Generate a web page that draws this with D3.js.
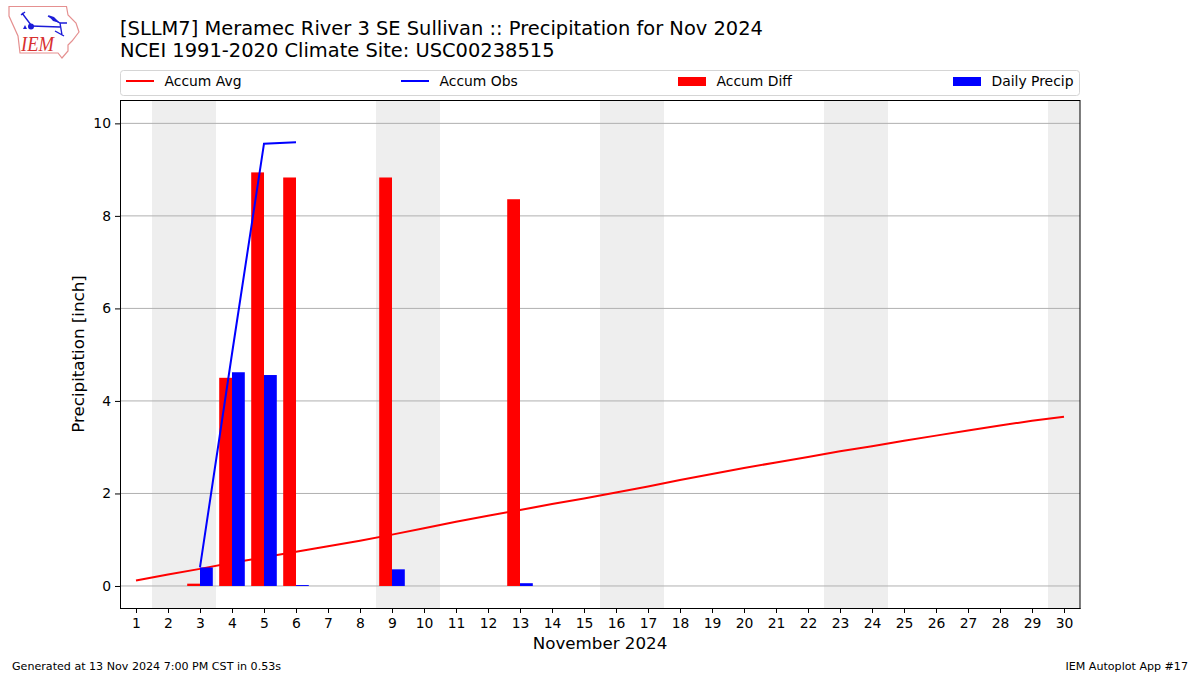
<!DOCTYPE html>
<html>
<head>
<meta charset="utf-8">
<title>Precipitation for Nov 2024</title>
<style>
    html, body { margin: 0; padding: 0; background: white; }
    svg { display: block; font-family: "DejaVu Sans"; }
    .tick text { font-size: 13.9px; fill: black; font-family: "DejaVu Sans"; }
    .domain, .tick line { stroke: black; stroke-width: 1px; }
    .gridline { stroke: #b0b0b0; stroke-width: 1px; }
</style>
</head>
<body>
<script src="https://cdn.jsdelivr.net/npm/d3@7"></script>
<script>
    const days = d3.range(1, 31);
    const accumAvg = [0.12, 0.25, 0.37, 0.50, 0.62, 0.74, 0.86, 0.98, 1.11, 1.25,
        1.39, 1.52, 1.64, 1.77, 1.89, 2.02, 2.15, 2.29, 2.42, 2.55,
        2.67, 2.79, 2.91, 3.02, 3.14, 3.25, 3.36, 3.47, 3.57, 3.66];
    const obsDays = [3, 4, 5, 6];
    const accumObs = [0.40, 5.02, 9.56, 9.59];
    const diffDays = [3, 4, 5, 6, 9, 13];
    const accumDiff = [0.05, 4.50, 8.94, 8.83, 8.83, 8.36];
    const dailyPrecip = [0.40, 4.62, 4.56, 0.02, 0.36, 0.06];
    const weekendBands = [[1.5, 3.5], [8.5, 10.5], [15.5, 17.5], [22.5, 24.5], [29.5, 30.5]];
    const yTicks = [0, 2, 4, 6, 8, 10];
    const legendItems = ["Accum Avg", "Accum Obs", "Accum Diff", "Daily Precip"];

    const plotLeft = 120, plotRight = 1080, plotTop = 100, plotBottom = 608;
    const barWidth = 0.4;

    const svg = d3.select("body").append("svg").attr("width", 1200).attr("height", 675);
    const x = d3.scaleLinear().domain([0.5, 30.5]).range([plotLeft, plotRight]);
    const y = d3.scaleLinear().domain([-0.476, 10.505]).range([plotBottom, plotTop]);

    // weekend shading
    svg.selectAll(".band").data(weekendBands).enter().append("rect")
        .attr("x", d => x(d[0]))
        .attr("width", d => x(d[1]) - x(d[0]))
        .attr("y", plotTop)
        .attr("height", plotBottom - plotTop)
        .attr("fill", "#eeeeee");

    svg.selectAll(".gridline").data(yTicks).enter().append("line")
        .attr("class", "gridline")
        .attr("x1", plotLeft).attr("x2", plotRight)
        .attr("y1", d => y(d)).attr("y2", d => y(d));

    const line = d3.line().x(d => x(d[0])).y(d => y(d[1]));

    svg.append("path")
        .attr("d", line(days.map((d, i) => [d, accumAvg[i]])))
        .attr("fill", "none").attr("stroke", "red").attr("stroke-width", 2);

    svg.selectAll(".diff").data(diffDays).enter().append("rect")
        .attr("x", d => x(d - barWidth))
        .attr("width", x(barWidth) - x(0))
        .attr("y", (d, i) => y(accumDiff[i]))
        .attr("height", (d, i) => y(0) - y(accumDiff[i]))
        .attr("fill", "red");

    svg.selectAll(".daily").data(diffDays).enter().append("rect")
        .attr("x", d => x(d))
        .attr("width", x(barWidth) - x(0))
        .attr("y", (d, i) => y(dailyPrecip[i]))
        .attr("height", (d, i) => y(0) - y(dailyPrecip[i]))
        .attr("fill", "blue");

    svg.append("path")
        .attr("d", line(obsDays.map((d, i) => [d, accumObs[i]])))
        .attr("fill", "none").attr("stroke", "blue").attr("stroke-width", 2);

    // axes
    svg.append("g").attr("transform", `translate(0,${plotBottom})`)
        .call(d3.axisBottom(x).tickValues(days).tickFormat(d3.format("d")).tickSize(5).tickPadding(5.5).tickSizeOuter(0));
    svg.append("g").attr("transform", `translate(${plotLeft},0)`)
        .call(d3.axisLeft(y).tickValues(yTicks).tickFormat(d3.format("d")).tickSize(5).tickPadding(4).tickSizeOuter(0));
    svg.append("rect")
        .attr("x", plotLeft + 0.5).attr("y", plotTop + 0.5)
        .attr("width", plotRight - plotLeft - 0.5).attr("height", plotBottom - plotTop)
        .attr("fill", "none").attr("stroke", "black");

    // titles and labels
    svg.append("text").attr("x", 120).attr("y", 35).attr("font-size", 19.45)
        .text("[SLLM7] Meramec River 3 SE Sullivan :: Precipitation for Nov 2024");
    svg.append("text").attr("x", 120).attr("y", 57).attr("font-size", 19.45)
        .text("NCEI 1991-2020 Climate Site: USC00238515");
    svg.append("text").attr("x", 600).attr("y", 649).attr("font-size", 16.7)
        .attr("text-anchor", "middle").text("November 2024");
    svg.append("text").attr("transform", "translate(84,354) rotate(-90)").attr("font-size", 16.7)
        .attr("text-anchor", "middle").text("Precipitation [inch]");
    svg.append("text").attr("x", 12).attr("y", 670).attr("font-size", 11.1)
        .text("Generated at 13 Nov 2024 7:00 PM CST in 0.53s");
    svg.append("text").attr("x", 1188).attr("y", 670).attr("font-size", 11.1)
        .attr("text-anchor", "end").text("IEM Autoplot App #17");

    // legend
    svg.append("rect")
        .attr("x", 120.5).attr("y", 70.5).attr("width", 959).attr("height", 25).attr("rx", 3)
        .attr("fill", "white").attr("stroke", "#d5d5d5");
    const legendX = [126, 401, 678, 953];
    const legendColors = ["red", "blue", "red", "blue"];
    legendItems.forEach((name, i) => {
        if (i < 2) {
            svg.append("line").attr("x1", legendX[i]).attr("x2", legendX[i] + 28)
                .attr("y1", 81).attr("y2", 81)
                .attr("stroke", legendColors[i]).attr("stroke-width", 2);
        } else {
            svg.append("rect").attr("x", legendX[i]).attr("y", 77).attr("width", 28).attr("height", 9)
                .attr("fill", legendColors[i]);
        }
        svg.append("text").attr("x", legendX[i] + 38.5).attr("y", 86).attr("font-size", 13.9).text(name);
    });

    // IEM logo
    const logo = svg.append("g");
    logo.append("path")
        .attr("d", "M9,6.5 L66.5,6.5 L68,15 L76,23 L79,32 L72,41 L68,45 L68,51 L62,58 L58,53 L20,53 L18,36 L9,16 Z")
        .attr("fill", "none").attr("stroke", "#e59090").attr("stroke-width", 1.2);
    logo.append("path")
        .attr("d", "M31,26 L60,27 M60,23 L62,35 M48,16 L60,23 L67,23 M31,25 L22,13 M21,15 L25,12 M55,31 L64,36")
        .attr("fill", "none").attr("stroke", "#1c1cd8").attr("stroke-width", 1.4);
    logo.append("circle").attr("cx", 31).attr("cy", 26.5).attr("r", 3).attr("fill", "#1c1cd8");
    logo.append("path").attr("d", "M48,15 L54,17 L60,23 L53,21 Z").attr("fill", "#1c1cd8");
    logo.append("path").attr("d", "M23,29 L25,25 L27,29 Z").attr("fill", "#1c1cd8");
    logo.append("text").attr("x", 21).attr("y", 51)
        .attr("font-family", "Liberation Serif").attr("font-style", "italic")
        .attr("font-size", 21).attr("fill", "#d83030")
        .attr("textLength", 33).attr("lengthAdjust", "spacingAndGlyphs").text("IEM");
</script>
</body>
</html>
